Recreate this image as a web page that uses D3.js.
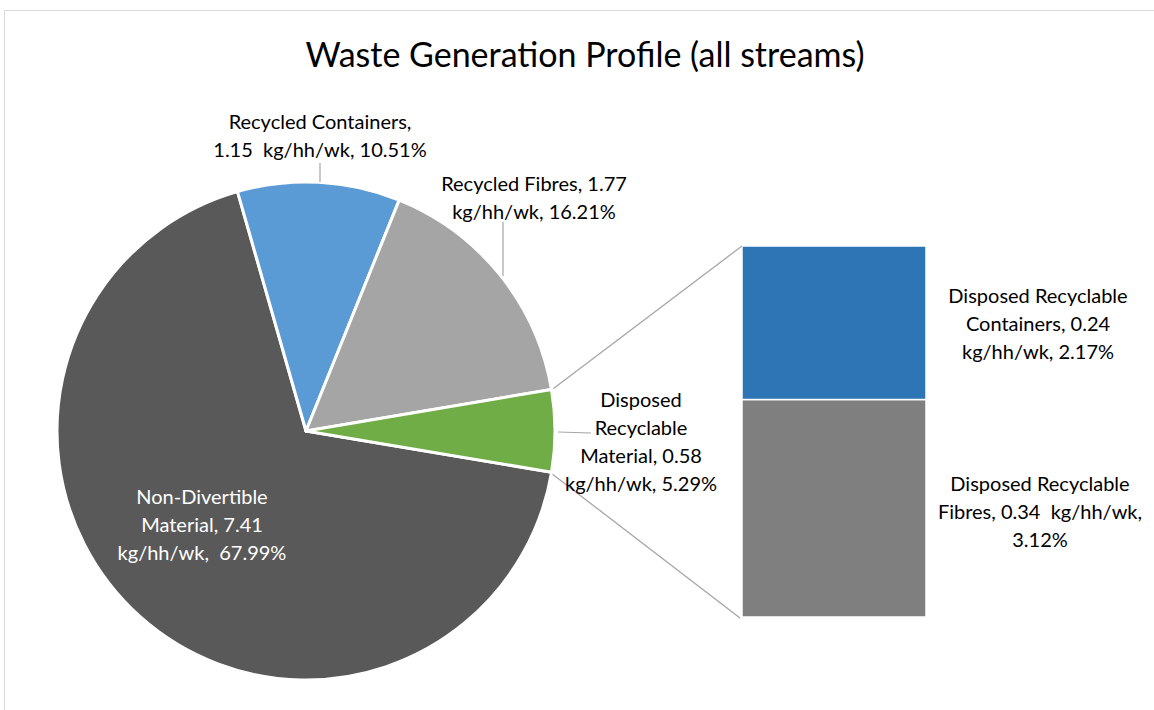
<!DOCTYPE html>
<html>
<head>
<meta charset="utf-8">
<script src="https://cdn.jsdelivr.net/npm/d3@7"></script>
<style>
  body { margin: 0; background: #fff; }
  svg { font-family: Lato, "Open Sans", sans-serif; }
</style>
</head>
<body>
<svg width="1154" height="710"></svg>
<script>
// pie slices (kg/hh/wk and share)
let pieNames = ['Non-Divertible Material', 'Recycled Containers', 'Recycled Fibres', 'Disposed Recyclable Material'];
let pieValues = [7.41, 1.15, 1.77, 0.58];
let piePct = [67.99, 10.51, 16.21, 5.29];
let pieColors = ['#595959', '#5b9bd5', '#a5a5a5', '#70ad47'];

// split-out bar
let barNames = ['Disposed Recyclable Fibres', 'Disposed Recyclable Containers'];
let barValues = [0.34, 0.24];
let barPct = [3.12, 2.17];
let barColors = ['#7f7f7f', '#2e75b6'];

// label text lines as the chart shows them
let pieLabels = [
    ['Non-Divertible', 'Material, 7.41', 'kg/hh/wk,  67.99%'],
    ['Recycled Containers,', '1.15  kg/hh/wk, 10.51%'],
    ['Recycled Fibres, 1.77', 'kg/hh/wk, 16.21%'],
    ['Disposed', 'Recyclable', 'Material, 0.58', 'kg/hh/wk, 5.29%']
];
let barLabels = [
    ['Disposed Recyclable', 'Fibres, 0.34  kg/hh/wk,', '3.12%'],
    ['Disposed Recyclable', 'Containers, 0.24', 'kg/hh/wk, 2.17%']
];

let svg = d3.select('svg');

svg.append('rect')
    .attr('x', 4.5).attr('y', 10.5)
    .attr('width', 1160).attr('height', 720)
    .attr('fill', '#fff')
    .attr('stroke', '#d9d9d9');

svg.append('text')
    .attr('x', 585).attr('y', 67)
    .attr('text-anchor', 'middle')
    .attr('font-size', 34)
    .attr('fill', '#000')
    .text('Waste Generation Profile (all streams)');

let cx = 306, cy = 431, r = 249;
let otherSpan = piePct[3] / 100 * 2 * Math.PI;
// the split slice is centred at 3 o'clock, first slice starts right after it
let startA = Math.PI / 2 + otherSpan / 2;

let pie = d3.pie().sort(null).value(d => d)
    .startAngle(startA).endAngle(startA + 2 * Math.PI);

let arcs = pie(pieValues);
let arc = d3.arc().innerRadius(0).outerRadius(r);

let g = svg.append('g').attr('transform', `translate(${cx},${cy})`);
g.selectAll('path')
    .data(arcs)
    .enter()
    .append('path')
    .attr('d', arc)
    .attr('fill', (d, i) => pieColors[i])
    .attr('stroke', '#fff')
    .attr('stroke-width', 3)
    .attr('stroke-linejoin', 'round');

// bar of the split slice
let barX = 742, barW = 184;
let y = d3.scaleLinear().domain([0, d3.sum(barValues)]).range([617, 246]);
let stack = [];
let acc = 0;
barValues.forEach((v, i) => { stack.push({ v: v, y0: acc, y1: acc + v, i: i }); acc += v; });

svg.selectAll('.bar')
    .data(stack)
    .enter()
    .append('rect')
    .attr('class', 'bar')
    .attr('x', barX)
    .attr('y', d => y(d.y1))
    .attr('width', barW)
    .attr('height', d => y(d.y0) - y(d.y1))
    .attr('fill', d => barColors[d.i])
    .attr('stroke', '#fff')
    .attr('stroke-width', 1.5);

// connector lines from split slice to bar
let other = arcs[3];
let pt = a => [cx + r * Math.sin(a), cy - r * Math.cos(a)];
let pTop = pt(other.startAngle);
let pBot = pt(other.endAngle);
svg.append('line')
    .attr('x1', pTop[0] + 2).attr('y1', pTop[1] - 1)
    .attr('x2', barX).attr('y2', y(d3.sum(barValues)))
    .attr('stroke', '#a6a6a6').attr('stroke-width', 1.3);
svg.append('line')
    .attr('x1', pBot[0] + 1).attr('y1', pBot[1] + 2)
    .attr('x2', barX - 2).attr('y2', y(0) + 1)
    .attr('stroke', '#a6a6a6').attr('stroke-width', 1.3);

// labels
let labelPos = [
    { x: 202, y: 497, color: '#fff' },
    { x: 320, y: 122, color: '#000' },
    { x: 534, y: 184, color: '#000' },
    { x: 641, y: 400, color: '#000' }
];
let barLabelPos = [
    { x: 1040, y: 484 },
    { x: 1038, y: 296 }
];
let lineH = 28;

function drawLabel(lines, p, color) {
    let t = svg.append('text')
        .attr('text-anchor', 'middle')
        .attr('font-size', 20)
        .attr('fill', color)
        .attr('xml:space', 'preserve');
    lines.forEach((l, k) => {
        t.append('tspan')
            .attr('x', p.x)
            .attr('y', p.y + k * lineH)
            .attr('dy', '0.35em')
            .text(l);
    });
}
pieLabels.forEach((lines, i) => drawLabel(lines, labelPos[i], labelPos[i].color));
barLabels.forEach((lines, i) => drawLabel(lines, barLabelPos[i], '#000'));

// leader lines
let leaders = [
    [[320, 163], [320, 182]],
    [[503, 222], [503, 276]],
    [[558, 432], [591, 433]]
];
leaders.forEach(l => {
    svg.append('path')
        .attr('d', d3.line()(l))
        .attr('stroke', '#a6a6a6')
        .attr('stroke-width', 1.2)
        .attr('fill', 'none');
});
</script>
</body>
</html>
